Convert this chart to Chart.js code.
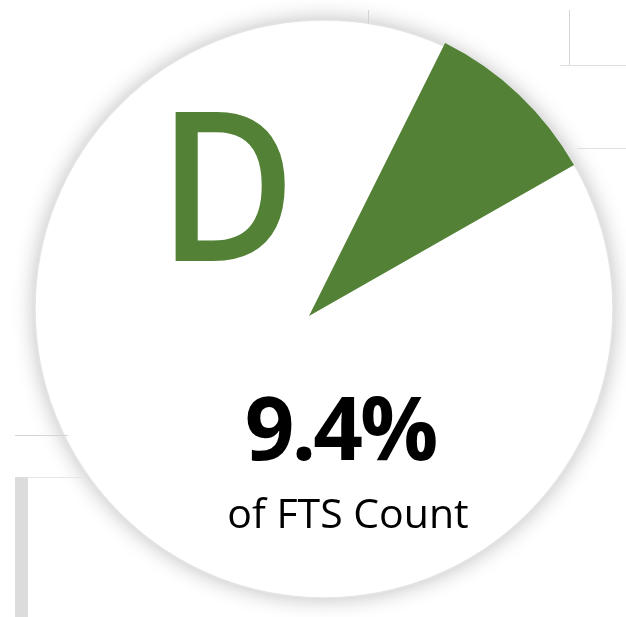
<!DOCTYPE html>
<html><head><meta charset="utf-8">
<script src="https://cdn.jsdelivr.net/npm/chart.js@4/dist/chart.umd.min.js"></script>
<style>
html,body{margin:0;padding:0;background:#fff;width:626px;height:617px;overflow:hidden}
#wrap{position:relative;width:626px;height:617px;overflow:hidden}
canvas{position:absolute;left:0;top:0}
.t{position:absolute;font-family:'Open Sans',sans-serif;line-height:1;white-space:nowrap}
.ln{position:absolute;background:#d4d4d4}
</style></head>
<body><div id="wrap">
<canvas id="c" width="626" height="640"></canvas>
<div class="ln" style="left:15px;top:435px;width:53px;height:1px"></div>
<div class="ln" style="left:15px;top:477px;width:70px;height:1px;background:#e6e6e6"></div>
<div class="ln" style="left:15px;top:477px;width:13px;height:140px;background:#dcdcdc"></div>
<div class="ln" style="left:368px;top:10px;width:1px;height:14px"></div>
<div class="ln" style="left:569px;top:10px;width:1px;height:55px"></div>
<div class="ln" style="left:560px;top:65px;width:66px;height:1px;background:#e0e0e0"></div>
<div class="ln" style="left:577px;top:148px;width:49px;height:1px;background:#e0e0e0"></div>
<div class="t" id="letter" style="left:158px;top:76px;font-size:209px;font-weight:600;color:#538135;transform:scaleX(0.9);transform-origin:0 0">D</div>
<div class="t" id="pct" style="left:340px;top:383px;font-size:87px;font-weight:700;color:#000;transform:translateX(-50%);letter-spacing:-3px">9.4%</div>
<div class="t" id="sub" style="left:348px;top:492px;font-size:41px;color:#000;transform:translateX(-50%)">of FTS Count</div>
</div>
<script>
const categories = ['D', 'Other'];
const values = [9.4, 90.6];
const sliceColors = ['#538135', 'rgba(255,255,255,0)'];

// decorative card disc behind the pie (slightly offset from the pie centre, as in the source)
const disc = {
  id: 'disc',
  beforeDatasetsDraw(chart) {
    const cx = 324, cy = 309, r = 289;
    const ctx = chart.ctx;
    ctx.save();
    ctx.beginPath();
    ctx.arc(cx, cy, r, 0, Math.PI * 2);
    ctx.fillStyle = '#fff';
    ctx.shadowColor = 'rgba(0,0,0,0.28)';
    ctx.shadowBlur = 22;
    ctx.fill();
    ctx.restore();
    ctx.save();
    ctx.beginPath();
    ctx.arc(cx, cy, r, 0, Math.PI * 2);
    ctx.strokeStyle = '#e4e4e4';
    ctx.lineWidth = 1.5;
    ctx.stroke();
    ctx.restore();
  }
};

new Chart(document.getElementById('c'), {
  type: 'pie',
  data: {
    labels: categories,
    datasets: [{
      data: values,
      backgroundColor: sliceColors,
      borderWidth: 0
    }]
  },
  options: {
    responsive: false,
    animation: false,
    rotation: 26.5,
    layout: { padding: { left: 4, right: 12, top: 11, bottom: 19 } },
    plugins: { legend: { display: false }, tooltip: { enabled: false } }
  },
  plugins: [disc]
});
</script>
</body></html>
